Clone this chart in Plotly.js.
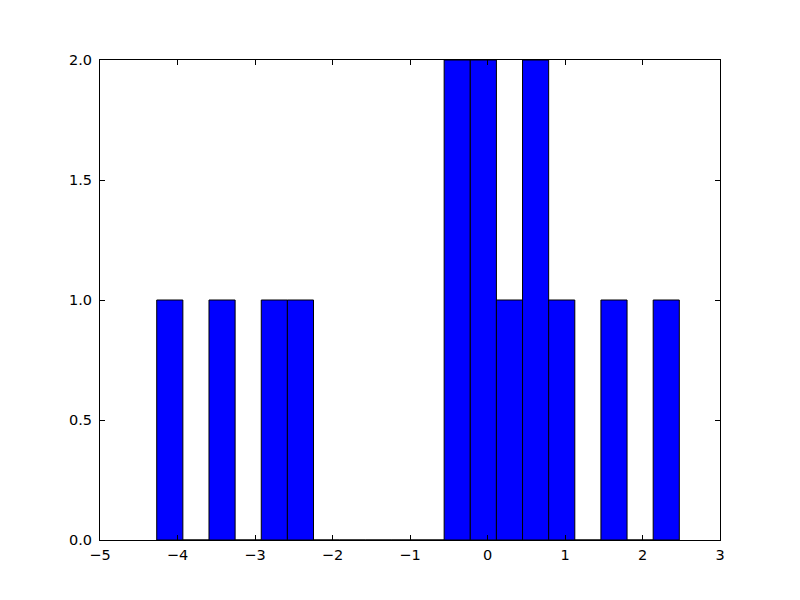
<!DOCTYPE html>
<html>
<head>
<meta charset="utf-8">
<script src="https://cdn.plot.ly/plotly-3.0.1.min.js"></script>
<style>html,body{margin:0;padding:0;background:#fff;}#chart{width:800px;height:600px;}</style>
</head>
<body>
<div id="chart"></div>
<script>
// Histogram range and bin counts
const histMin = -4.268;
const histMax = 2.475;
const counts = [1, 0, 1, 0, 1, 1, 0, 0, 0, 0, 0, 2, 2, 1, 2, 1, 0, 1, 0, 1];
const xTickVals = [-5, -4, -3, -2, -1, 0, 1, 2, 3];
const yTickVals = [0, 0.5, 1.0, 1.5, 2.0];

const nBins = counts.length;
const binW = (histMax - histMin) / nBins;
const centers = counts.map((c, i) => histMin + binW * (i + 0.5));

const trace = {
  type: 'bar',
  x: centers,
  y: counts,
  width: counts.map(() => binW),
  marker: {color: '#0000ff', line: {color: '#000000', width: 1}},
  hoverinfo: 'x+y'
};

const axisCommon = {
  showgrid: false,
  zeroline: false,
  showline: true,
  linecolor: '#000',
  linewidth: 1,
  mirror: 'ticks',
  ticks: 'inside',
  ticklen: 5,
  tickwidth: 1,
  tickcolor: '#000',
  tickfont: {family: 'DejaVu Sans', size: 14.5, color: '#000'}
};

const layout = {
  width: 800,
  height: 600,
  margin: {l: 100, r: 80, t: 60, b: 60},
  paper_bgcolor: '#fff',
  plot_bgcolor: '#fff',
  showlegend: false,
  bargap: 0,
  xaxis: Object.assign({}, axisCommon, {
    range: [-5, 3],
    tickmode: 'array',
    tickvals: xTickVals,
    ticktext: xTickVals.map(v => v < 0 ? '\u2212' + Math.abs(v) : String(v)),
    ticklabelstandoff: 2
  }),
  yaxis: Object.assign({}, axisCommon, {
    range: [0, 2],
    tickmode: 'array',
    tickvals: yTickVals,
    ticktext: yTickVals.map(v => v.toFixed(1)),
    ticklabelstandoff: 4
  })
};

Plotly.newPlot('chart', [trace], layout, {displayModeBar: false, staticPlot: true});
</script>
</body>
</html>
